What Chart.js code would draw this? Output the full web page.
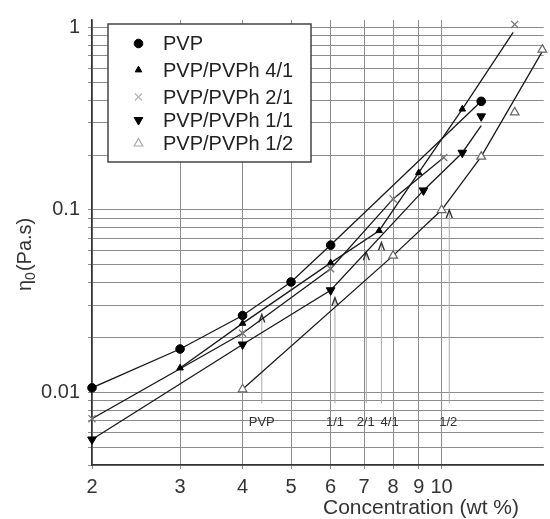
<!DOCTYPE html>
<html>
<head>
<meta charset="utf-8">
<script src="https://cdn.jsdelivr.net/npm/chart.js@4.4.0/dist/chart.umd.min.js"></script>
<style>
html, body { margin: 0; padding: 0; background: #fff; }
</style>
</head>
<body>
<canvas id="grafico" width="550" height="519"></canvas>
<script>
// Valores (eje x: concentracion en wt %, eje y: eta0 en Pa.s)
var pvpX = [2, 3, 4, 5, 6, 12];
var pvpY = [0.0106, 0.0173, 0.0264, 0.0403, 0.0642, 0.394];

var r41X = [3, 4, 6, 7.5, 9, 11];
var r41Y = [0.0136, 0.0239, 0.0513, 0.077, 0.16, 0.357];

var r21X = [2, 4, 6, 8, 10.1, 14];
var r21Y = [0.00718, 0.0211, 0.0476, 0.115, 0.194, 1.04];

var r11X = [2, 4, 6, 9.2, 11, 12];
var r11Y = [0.00552, 0.0183, 0.0363, 0.128, 0.206, 0.326];

var r12X = [4, 8, 10, 12, 14, 15.9];
var r12Y = [0.0104, 0.0562, 0.0999, 0.196, 0.343, 0.757];

// lineas de ajuste tal como se ven en la figura
var pvpLineaX = [2, 3, 4, 5, 6, 12];
var pvpLineaY = [0.0106, 0.0173, 0.0264, 0.0403, 0.0642, 0.394];
var r41LineaX = [3, 4, 6, 7.5, 9, 11, 13.9];
var r41LineaY = [0.0136, 0.0239, 0.0513, 0.077, 0.16, 0.357, 0.94];
var r21LineaX = [2, 4, 6, 8, 10.1];
var r21LineaY = [0.00718, 0.0211, 0.0476, 0.115, 0.194];
var r11LineaX = [2, 4, 6, 9.2, 11, 12];
var r11LineaY = [0.00552, 0.0183, 0.0363, 0.128, 0.206, 0.29];
var r12LineaX = [4, 8, 10, 12, 15.9];
var r12LineaY = [0.0104, 0.0562, 0.0999, 0.196, 0.74];

// flechas de concentracion critica
var flechaEtiquetas = ['PVP', '1/1', '2/1', '4/1', '1/2'];
var flechaX = [4.37, 6.12, 7.07, 7.58, 10.36];
var flechaPuntaY = [0.0267, 0.033, 0.0586, 0.0664, 0.1];
var etiquetaX = [4.37, 6.12, 7.05, 7.87, 10.31];
var flechaBaseY = 0.0087;
var etiquetaY = 0.00685;

// ejes
var ticksX = [2, 3, 4, 5, 6, 7, 8, 9, 10];
var gridY = [0.004, 0.005, 0.006, 0.007, 0.008, 0.009,
             0.01, 0.02, 0.03, 0.04, 0.05, 0.06, 0.07, 0.08, 0.09,
             0.1, 0.2, 0.3, 0.4, 0.5, 0.6, 0.7, 0.8, 0.9, 1];
var etiquetasY = [0.01, 0.1, 1];

var leyenda = ['PVP', 'PVP/PVPh 4/1', 'PVP/PVPh 2/1', 'PVP/PVPh 1/1', 'PVP/PVPh 1/2'];

var fuente = "'Liberation Sans', Arial, sans-serif";

function puntos(xs, ys) {
    return xs.map(function (x, i) { return { x: x, y: ys[i] }; });
}

function linea(xs, ys) {
    return {
        data: puntos(xs, ys),
        showLine: true,
        borderColor: '#1a1a1a',
        borderWidth: 1.3,
        pointRadius: 0,
        fill: false,
        order: 2
    };
}

// colorLeyenda: en la leyenda las marcas grises se ven mas claras
var estilos = [
    { pointStyle: 'circle', pointRadius: 4.3, rotation: 0, backgroundColor: '#000', borderColor: '#000', borderWidth: 1, colorLeyenda: '#000' },
    { pointStyle: 'triangle', pointRadius: 3.8, rotation: 0, backgroundColor: '#000', borderColor: '#000', borderWidth: 1, colorLeyenda: '#000' },
    { pointStyle: 'crossRot', pointRadius: 5, rotation: 0, backgroundColor: '#777', borderColor: '#777', borderWidth: 1.3, colorLeyenda: '#b5b5b5' },
    { pointStyle: 'triangle', pointRadius: 5, rotation: 180, backgroundColor: '#000', borderColor: '#000', borderWidth: 1, colorLeyenda: '#000' },
    { pointStyle: 'triangle', pointRadius: 5, rotation: 0, backgroundColor: '#fff', borderColor: '#666', borderWidth: 1.2, colorLeyenda: '#aaa' }
];

function marcas(xs, ys, e) {
    return {
        data: puntos(xs, ys),
        showLine: false,
        clip: false,
        pointStyle: e.pointStyle,
        pointRadius: e.pointRadius,
        pointRotation: e.rotation,
        pointBackgroundColor: e.backgroundColor,
        pointBorderColor: e.borderColor,
        pointBorderWidth: e.borderWidth,
        order: 1
    };
}

var pluginFlechas = {
    id: 'flechas',
    beforeDatasetsDraw: function (chart) {
        var ctx = chart.ctx;
        var sx = chart.scales.x, sy = chart.scales.y;
        ctx.save();
        for (var i = 0; i < flechaX.length; i++) {
            var px = sx.getPixelForValue(flechaX[i]);
            var top = sy.getPixelForValue(flechaPuntaY[i]);
            var bot = sy.getPixelForValue(flechaBaseY);
            ctx.strokeStyle = '#aaa';
            ctx.lineWidth = 1;
            ctx.beginPath();
            ctx.moveTo(px, bot);
            ctx.lineTo(px, top);
            ctx.stroke();
            ctx.strokeStyle = '#333';
            ctx.lineWidth = 1.4;
            ctx.beginPath();
            ctx.moveTo(px - 3, top + 8);
            ctx.lineTo(px, top);
            ctx.lineTo(px + 3, top + 8);
            ctx.stroke();
            ctx.fillStyle = '#333';
            ctx.font = '13px ' + fuente;
            ctx.textAlign = 'center';
            ctx.textBaseline = 'middle';
            ctx.fillText(flechaEtiquetas[i], sx.getPixelForValue(etiquetaX[i]), sy.getPixelForValue(etiquetaY));
        }
        ctx.restore();
    }
};

var pluginLeyenda = {
    id: 'leyendaPropia',
    afterDatasetsDraw: function (chart) {
        var ctx = chart.ctx;
        var filas = [43.5, 70, 97, 120, 143.5];
        ctx.save();
        ctx.fillStyle = '#fff';
        ctx.fillRect(108, 24, 203, 138);
        ctx.strokeStyle = '#444';
        ctx.lineWidth = 1.5;
        ctx.strokeRect(108, 24, 203, 138);
        for (var i = 0; i < leyenda.length; i++) {
            var e = estilos[i];
            ctx.fillStyle = e.backgroundColor === '#fff' ? '#fff' : e.colorLeyenda;
            ctx.strokeStyle = e.colorLeyenda;
            ctx.lineWidth = e.borderWidth;
            Chart.helpers.drawPoint(ctx, {
                pointStyle: e.pointStyle,
                radius: e.pointRadius,
                rotation: e.rotation,
                borderWidth: e.borderWidth
            }, 138.5, filas[i]);
            ctx.fillStyle = '#222';
            ctx.font = '20px ' + fuente;
            ctx.textAlign = 'left';
            ctx.textBaseline = 'middle';
            ctx.fillText(leyenda[i], 163, filas[i] + 1);
        }
        ctx.restore();
    },
    afterDraw: function (chart) {
        var ctx = chart.ctx;
        ctx.save();
        ctx.fillStyle = '#333';
        ctx.font = '21px ' + fuente;
        ctx.textAlign = 'center';
        ctx.textBaseline = 'middle';
        ctx.fillText('Concentration (wt %)', 421, 508);
        // titulo del eje y con subindice
        ctx.translate(31, 291);
        ctx.rotate(-Math.PI / 2);
        ctx.textAlign = 'left';
        ctx.textBaseline = 'alphabetic';
        ctx.font = '20px ' + fuente;
        ctx.fillText('\u03b7', 0, 0);
        var w = ctx.measureText('\u03b7').width;
        ctx.font = '14px ' + fuente;
        ctx.fillText('0', w, 4);
        var w2 = ctx.measureText('0').width;
        ctx.font = '20px ' + fuente;
        ctx.fillText('(Pa.s)', w + w2 + 1, 0);
        ctx.restore();
    }
};

var ctx = document.getElementById('grafico').getContext('2d');
var grafico = new Chart(ctx, {
    type: 'scatter',
    data: {
        datasets: [
            linea(pvpLineaX, pvpLineaY),
            linea(r41LineaX, r41LineaY),
            linea(r21LineaX, r21LineaY),
            linea(r11LineaX, r11LineaY),
            linea(r12LineaX, r12LineaY),
            marcas(pvpX, pvpY, estilos[0]),
            marcas(r41X, r41Y, estilos[1]),
            marcas(r21X, r21Y, estilos[2]),
            marcas(r11X, r11Y, estilos[3]),
            marcas(r12X, r12Y, estilos[4])
        ]
    },
    options: {
        responsive: false,
        animation: false,
        devicePixelRatio: 1,
        layout: { padding: { top: 15, right: 4, left: 0, bottom: 0 } },
        plugins: {
            legend: { display: false },
            tooltip: { enabled: false }
        },
        scales: {
            x: {
                type: 'logarithmic',
                min: 2,
                max: 16,
                afterBuildTicks: function (scale) {
                    scale.ticks = ticksX.map(function (v) { return { value: v }; });
                },
                afterFit: function (scale) { scale.height = 54; },
                ticks: {
                    autoSkip: false,
                    maxRotation: 0,
                    padding: 6,
                    color: '#333',
                    font: { size: 20, family: fuente },
                    callback: function (v) { return String(v); }
                },
                grid: { color: '#8c8c8c', lineWidth: 1, tickLength: 4 },
                border: { color: '#333', width: 1.5 }
            },
            y: {
                type: 'logarithmic',
                min: 0.004,
                max: 1.1,
                afterBuildTicks: function (scale) {
                    scale.ticks = gridY.map(function (v) { return { value: v }; });
                },
                afterFit: function (scale) { scale.width = 92; },
                ticks: {
                    autoSkip: false,
                    padding: 8,
                    color: '#333',
                    font: { size: 20, family: fuente },
                    callback: function (v) { return etiquetasY.indexOf(v) >= 0 ? String(v) : ''; }
                },
                grid: { color: '#8c8c8c', lineWidth: 1, tickLength: 4 },
                border: { color: '#333', width: 1.5 }
            }
        }
    },
    plugins: [pluginFlechas, pluginLeyenda]
});
</script>
</body>
</html>
